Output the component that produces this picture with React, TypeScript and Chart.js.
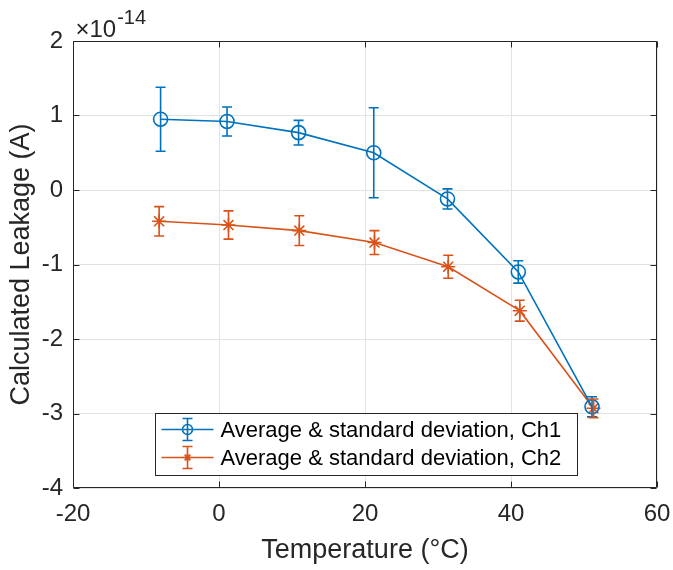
import React, { useEffect, useRef } from "react";
import { Chart, registerables } from "chart.js";

Chart.register(...registerables);

// ---- Data (values in units of 10^-14 A) ----
const temperaturesCh1 = [-8.0, 1.1, 10.9, 21.2, 31.3, 41.0, 51.1];
const meanCh1 = [0.95, 0.92, 0.77, 0.5, -0.12, -1.1, -2.91];
const stdCh1 = [0.43, 0.195, 0.165, 0.605, 0.135, 0.15, 0.135];

const temperaturesCh2 = [-8.2, 1.3, 11.0, 21.3, 31.4, 41.2, 51.3];
const meanCh2 = [-0.42, -0.47, -0.545, -0.705, -1.03, -1.62, -2.93];
const stdCh2 = [0.197, 0.19, 0.2, 0.16, 0.155, 0.14, 0.125];

const xTicks = [-20, 0, 20, 40, 60];
const yTicks = [-4, -3, -2, -1, 0, 1, 2];
const yExponent = -14;

const seriesLabels = [
  "Average & standard deviation, Ch1",
  "Average & standard deviation, Ch2",
];
const xTitle = "Temperature (°C)";
const yTitle = "Calculated Leakage (A)";

// ---- Styles ----
const FONT = "'Liberation Sans', Arial, Helvetica, sans-serif";
const TEXT = "#262626";
const GRID = "#e3e3e3";
const BLUE = "#0072BD";
const ORANGE = "#D95319";

const errorBarPlugin = {
  id: "errorBars",
  afterDatasetsDraw(chart: any) {
    const { ctx, scales } = chart;
    const xs = scales.x;
    const ys = scales.y;
    chart.data.datasets.forEach((ds: any) => {
      const errs: number[] = ds.errorBars || [];
      ctx.save();
      ctx.strokeStyle = ds.borderColor;
      ctx.lineWidth = 1.6;
      ds.data.forEach((p: any, j: number) => {
        const e = errs[j] || 0;
        const px = xs.getPixelForValue(p.x);
        const y1 = ys.getPixelForValue(p.y + e);
        const y2 = ys.getPixelForValue(p.y - e);
        const cap = 5;
        ctx.beginPath();
        ctx.moveTo(px, y1);
        ctx.lineTo(px, y2);
        ctx.moveTo(px - cap, y1);
        ctx.lineTo(px + cap, y1);
        ctx.moveTo(px - cap, y2);
        ctx.lineTo(px + cap, y2);
        ctx.stroke();
      });
      ctx.restore();
    });
  },
};

const boxPlugin = {
  id: "axisBox",
  afterDraw(chart: any) {
    const { ctx, chartArea, scales } = chart;
    const { left, right, top, bottom } = chartArea;
    const L = Math.round(left) + 0.5;
    const R = Math.round(right) - 0.5;
    const T = Math.round(top) + 0.5;
    const B = Math.round(bottom) - 0.5;
    ctx.save();
    ctx.strokeStyle = TEXT;
    ctx.lineWidth = 1;
    ctx.beginPath();
    ctx.rect(L, T, R - L, B - T);
    const tl = 6;
    xTicks.forEach((v) => {
      const px = Math.round(scales.x.getPixelForValue(v)) + 0.5;
      ctx.moveTo(px, B);
      ctx.lineTo(px, B - tl);
      ctx.moveTo(px, T);
      ctx.lineTo(px, T + tl);
    });
    yTicks.forEach((v) => {
      const py = Math.round(scales.y.getPixelForValue(v)) + 0.5;
      ctx.moveTo(L, py);
      ctx.lineTo(L + tl, py);
      ctx.moveTo(R, py);
      ctx.lineTo(R - tl, py);
    });
    ctx.stroke();

    // exponent label
    ctx.fillStyle = TEXT;
    ctx.textBaseline = "alphabetic";
    ctx.textAlign = "left";
    ctx.font = `24px ${FONT}`;
    const base = "\u00d710";
    ctx.fillText(base, L + 2, T - 5);
    const w = ctx.measureText(base).width;
    ctx.font = `20px ${FONT}`;
    ctx.fillText(String(yExponent), L + 2 + w + 1, T - 18);

    // legend
    const lx = L + 82;
    const ly = T + 372;
    const lw = 422;
    const lh = 62;
    ctx.fillStyle = "#ffffff";
    ctx.fillRect(lx, ly, lw, lh);
    ctx.strokeStyle = TEXT;
    ctx.lineWidth = 1;
    ctx.strokeRect(lx, ly, lw, lh);
    chart.data.datasets.forEach((ds: any, i: number) => {
      const ry = ly + 16 + i * 28;
      const x0 = lx + 6;
      const x1 = lx + 58;
      const cx = (x0 + x1) / 2;
      ctx.strokeStyle = ds.borderColor;
      ctx.lineWidth = 1.6;
      ctx.beginPath();
      ctx.moveTo(x0, ry);
      ctx.lineTo(x1, ry);
      ctx.moveTo(cx, ry - 11);
      ctx.lineTo(cx, ry + 11);
      ctx.moveTo(cx - 5, ry - 11);
      ctx.lineTo(cx + 5, ry - 11);
      ctx.moveTo(cx - 5, ry + 11);
      ctx.lineTo(cx + 5, ry + 11);
      ctx.stroke();
      ctx.beginPath();
      if (ds.pointStyle === "circle") {
        ctx.arc(cx, ry, 5, 0, Math.PI * 2);
      } else {
        const r = 4;
        ctx.moveTo(cx - r, ry);
        ctx.lineTo(cx + r, ry);
        ctx.moveTo(cx, ry - r);
        ctx.lineTo(cx, ry + r);
        const d = r * Math.SQRT1_2;
        ctx.moveTo(cx - d, ry - d);
        ctx.lineTo(cx + d, ry + d);
        ctx.moveTo(cx - d, ry + d);
        ctx.lineTo(cx + d, ry - d);
      }
      ctx.stroke();
      ctx.fillStyle = "#000000";
      ctx.font = `22px ${FONT}`;
      ctx.textBaseline = "middle";
      ctx.textAlign = "left";
      ctx.fillText(ds.label, lx + 65, ry + 1);
    });
    ctx.restore();
  },
};

export default function App() {
  const ref = useRef<HTMLCanvasElement | null>(null);

  useEffect(() => {
    if (!ref.current) return;
    const chart = new Chart(ref.current, {
      type: "line",
      data: {
        datasets: [
          {
            label: seriesLabels[0],
            data: temperaturesCh1.map((x, i) => ({ x, y: meanCh1[i] })),
            errorBars: stdCh1,
            borderColor: BLUE,
            backgroundColor: BLUE,
            borderWidth: 1.6,
            pointStyle: "circle",
            pointRadius: 7,
            pointBorderWidth: 1.6,
            pointBackgroundColor: "rgba(0,0,0,0)",
            pointBorderColor: BLUE,
            tension: 0,
          } as any,
          {
            label: seriesLabels[1],
            data: temperaturesCh2.map((x, i) => ({ x, y: meanCh2[i] })),
            errorBars: stdCh2,
            borderColor: ORANGE,
            backgroundColor: ORANGE,
            borderWidth: 1.6,
            pointStyle: "star",
            pointRadius: 7,
            pointBorderWidth: 1.6,
            pointBackgroundColor: ORANGE,
            pointBorderColor: ORANGE,
            tension: 0,
          } as any,
        ],
      },
      options: {
        animation: false,
        responsive: false,
        devicePixelRatio: 1,
        layout: { padding: { top: 41, right: 16, left: 0, bottom: 0 } },
        plugins: {
          legend: { display: false },
          tooltip: { enabled: false },
        },
        scales: {
          x: {
            type: "linear",
            min: -20,
            max: 60,
            afterFit: (s: any) => {
              s.height = 82;
              s.paddingLeft = 0;
              s.paddingRight = 0;
            },
            afterBuildTicks: (s: any) => {
              s.ticks = xTicks.map((v) => ({ value: v }));
            },
            ticks: {
              color: TEXT,
              font: { family: FONT, size: 24 },
              padding: 12,
              maxRotation: 0,
              autoSkip: false,
            },
            grid: { color: GRID, lineWidth: 1, drawTicks: false },
            border: { display: false },
            title: {
              display: true,
              text: xTitle,
              color: TEXT,
              font: { family: FONT, size: 27 },
              padding: { top: 0, bottom: 3 },
            },
          },
          y: {
            type: "linear",
            min: -4,
            max: 2,
            afterFit: (s: any) => {
              s.width = 73;
              s.paddingTop = 0;
              s.paddingBottom = 0;
            },
            afterBuildTicks: (s: any) => {
              s.ticks = yTicks.map((v) => ({ value: v }));
            },
            ticks: {
              color: TEXT,
              font: { family: FONT, size: 24 },
              padding: 10,
              autoSkip: false,
            },
            grid: { color: GRID, lineWidth: 1, drawTicks: false },
            border: { display: false },
            title: {
              display: true,
              text: yTitle,
              color: TEXT,
              font: { family: FONT, size: 27 },
              padding: { top: 5, bottom: 0 },
            },
          },
        },
      },
      plugins: [errorBarPlugin, boxPlugin],
    } as any);
    return () => chart.destroy();
  }, []);

  return (
    <div style={{ position: "absolute", left: 0, top: 0, width: 673, height: 570, background: "#fff" }}>
      <canvas ref={ref} width={673} height={570} />
    </div>
  );
}
